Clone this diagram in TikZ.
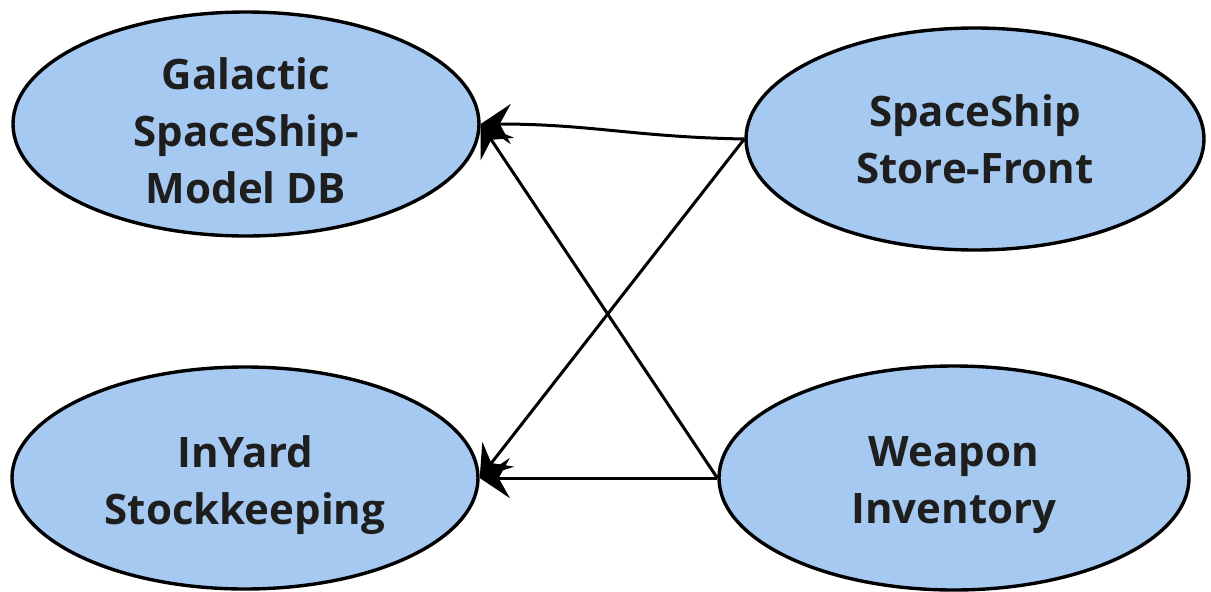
\documentclass[tikz,border=0pt]{standalone}
\usepackage{fontspec}
\setmainfont{Open Sans}
\usetikzlibrary{shapes.geometric,arrows.meta}
\definecolor{dbblue}{RGB}{166,201,242}
\definecolor{inkgray}{RGB}{30,30,30}

\begin{document}
\begin{tikzpicture}[x=1pt,y=-1pt,
    sysnode/.style={ellipse,draw=black,line width=3.4pt,fill=dbblue,inner sep=0pt},
    systext/.style={text=inkgray,align=center,text depth=0pt,inner sep=0pt,
      font=\fontsize{42}{57}\selectfont\bfseries},
    dep/.style={line width=3pt,-{Stealth[length=30pt,width=40pt,inset=11pt]}}]
    \useasboundingbox (0,0) rectangle (1211,592);
    \node[sysnode,minimum width=466pt,minimum height=224pt] (gal) at (246,124) {};
    \node[sysnode,minimum width=466pt,minimum height=222pt] (yard) at (245,478) {};
    \node[sysnode,minimum width=458pt,minimum height=222pt] (store) at (975,139) {};
    \node[sysnode,minimum width=470pt,minimum height=224pt] (weapon) at (954,478) {};
    \node[systext] (galtxt) at ([yshift=-6.5pt]gal.center) {Galactic\\SpaceShip-\\Model DB};
    \node[systext] (yardtxt) at ([yshift=-2.5pt]yard.center) {InYard\\Stockkeeping};
    \node[systext] (storetxt) at (store.center) {SpaceShip\\Store-Front};
    \node[systext] (weapontxt) at ([yshift=-2.5pt]weapon.center) {Weapon\\Inventory};
    \draw[dep] (store.west) .. controls +(-110,-2) and +(110,0) .. (gal.east);
    \draw[dep] (store.west) -- (yard.east);
    \draw[dep] (weapon.west) -- (gal.east);
    \draw[dep] (weapon.west) -- (yard.east);
  \end{tikzpicture}
\end{document}
